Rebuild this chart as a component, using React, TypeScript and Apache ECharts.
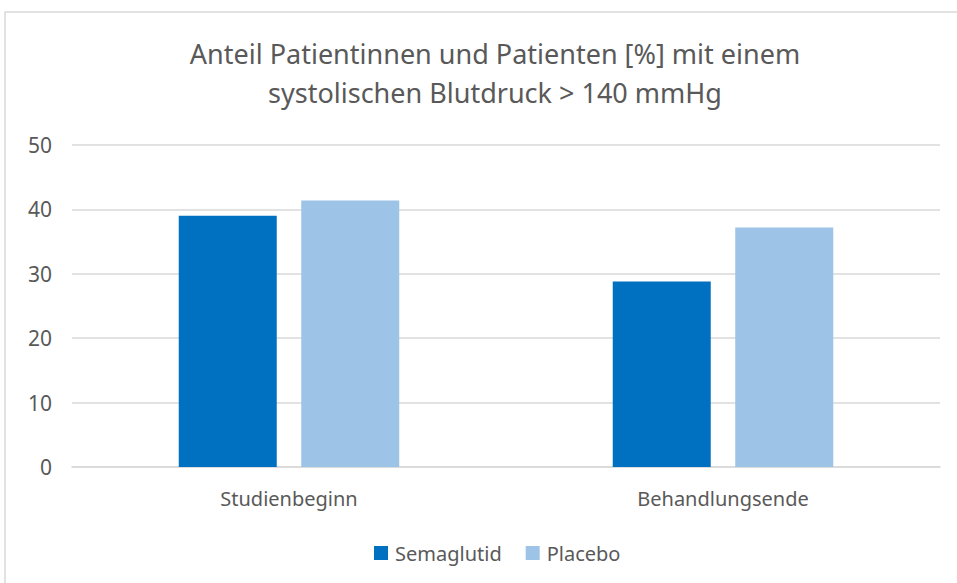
import React, { useEffect, useRef } from "react";
import * as echarts from "echarts";

const categories = ["Studienbeginn", "Behandlungsende"];
const semaglutid = [39.0, 28.8];
const placebo = [41.4, 37.2];
const seriesNames = ["Semaglutid", "Placebo"];
const titleText = "Anteil Patientinnen und Patienten [%] mit einem\nsystolischen Blutdruck > 140 mmHg";

export default function App() {
  const ref = useRef<HTMLDivElement>(null);
  useEffect(() => {
    if (!ref.current) return;
    const chart = echarts.init(ref.current, null, { renderer: "svg" });
    const font = "'Noto Sans', sans-serif";
    chart.setOption({
      animation: false,
      backgroundColor: "#ffffff",
      textStyle: { fontFamily: font },
      graphic: [
        {
          type: "rect",
          shape: { x: 5, y: 12, width: 1000, height: 600 },
          style: { fill: "none", stroke: "#d9d9d9", lineWidth: 1.5 },
          silent: true,
        },
      ],
      title: {
        text: titleText,
        left: 490,
        textAlign: "center",
        top: 29,
        textStyle: {
          fontFamily: font,
          fontSize: 27,
          fontWeight: "normal",
          color: "#595959",
          lineHeight: 39,
        },
      },
      grid: { left: 72, right: 17, top: 145, bottom: 116, containLabel: false },
      xAxis: {
        type: "category",
        data: categories,
        axisLine: { lineStyle: { color: "#d9d9d9", width: 1.5 } },
        axisTick: { show: false },
        axisLabel: { color: "#595959", fontSize: 20, margin: 21, fontFamily: font },
      },
      yAxis: {
        type: "value",
        min: 0,
        max: 50,
        interval: 10,
        axisLine: { show: false },
        axisTick: { show: false },
        splitLine: { lineStyle: { color: "#d9d9d9", width: 1.5 } },
        axisLabel: { color: "#595959", fontSize: 21, margin: 20, fontFamily: font },
      },
      legend: {
        data: seriesNames,
        bottom: 15,
        left: 369,
        icon: "rect",
        itemWidth: 14,
        itemHeight: 14,
        itemGap: 24,
        textStyle: { color: "#595959", fontSize: 20, fontFamily: font, padding: [0, 0, 0, 2] },
      },
      series: [
        {
          name: seriesNames[0],
          type: "bar",
          data: semaglutid,
          barWidth: 98,
          barGap: "25%",
          itemStyle: { color: "#0070C0" },
        },
        {
          name: seriesNames[1],
          type: "bar",
          data: placebo,
          barWidth: 98,
          itemStyle: { color: "#9DC3E6" },
        },
      ],
    });
    return () => chart.dispose();
  }, []);
  return (
    <div
      ref={ref}
      style={{ position: "fixed", left: 0, top: 0, width: 957, height: 583, background: "#fff" }}
    />
  );
}
